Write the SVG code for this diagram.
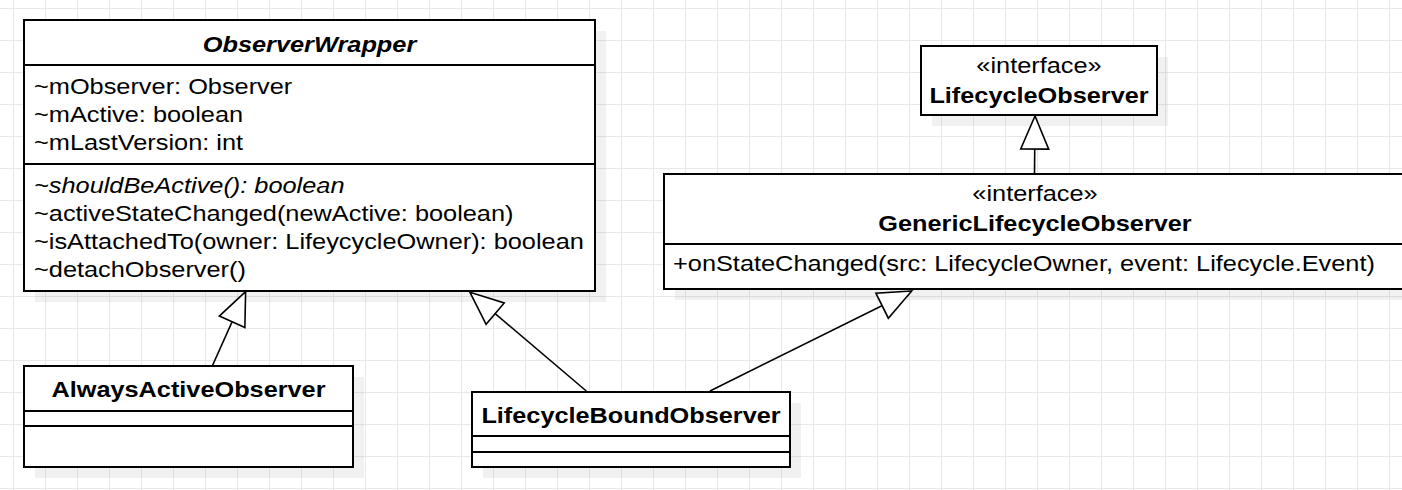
<svg xmlns="http://www.w3.org/2000/svg" width="1402" height="490" viewBox="0 0 1402 490">
<style>
.bx{fill:#fff;stroke:#000;stroke-width:2}
.sh{fill:#000;fill-opacity:0.055}
.sep{stroke:#000;stroke-width:2}
.t{font-family:"Liberation Sans",Arial,sans-serif;font-size:22px;fill:#000}
.b{font-weight:bold}
.i{font-style:italic}
.c{text-anchor:middle}
.cn{fill:none;stroke:#000;stroke-width:1.6;marker-end:url(#tri)}
</style>
<defs>
<pattern id="grid" x="13" y="8" width="32" height="32" patternUnits="userSpaceOnUse">
<rect x="0" y="0" width="1" height="32" fill="#e8e8e8"/>
<rect x="0" y="0" width="32" height="1" fill="#e8e8e8"/>
</pattern>
<marker id="tri" markerUnits="userSpaceOnUse" viewBox="-36 -16 38 32" refX="0" refY="0" markerWidth="38" markerHeight="32" orient="auto" overflow="visible">
<path d="M0,0 L-33,-14 L-33,14 Z" fill="#fff" stroke="#000" stroke-width="1.6"/>
</marker>
</defs>
<rect width="1402" height="490" fill="#fff"/>
<rect width="1402" height="490" fill="url(#grid)"/>
<g id="shadows">
<rect class="sh" x="35" y="31" width="571" height="271"/>
<rect class="sh" x="35" y="377" width="329" height="101"/>
<rect class="sh" x="483" y="403" width="318" height="75"/>
<rect class="sh" x="932" y="57" width="236" height="69"/>
<rect class="sh" x="675" y="185" width="760" height="115"/>
</g>
<g id="ObserverWrapper">
<rect class="bx" x="24" y="20" width="571" height="271"/>
<line class="sep" x1="24" y1="65" x2="595" y2="65"/>
<line class="sep" x1="24" y1="164" x2="595" y2="164"/>
<text class="t b i c" transform="translate(309.5,52) scale(1.152,1)">ObserverWrapper</text>
<text class="t" transform="translate(34,94) scale(1.152,1)">~mObserver: Observer</text>
<text class="t" transform="translate(34,122) scale(1.152,1)">~mActive: boolean</text>
<text class="t" transform="translate(34,150) scale(1.152,1)">~mLastVersion: int</text>
<text class="t i" transform="translate(34,193) scale(1.152,1)">~shouldBeActive(): boolean</text>
<text class="t" transform="translate(34,221) scale(1.152,1)">~activeStateChanged(newActive: boolean)</text>
<text class="t" transform="translate(34,249) scale(1.152,1)">~isAttachedTo(owner: LifeycycleOwner): boolean</text>
<text class="t" transform="translate(34,277) scale(1.152,1)">~detachObserver()</text>
</g>
<g id="AlwaysActiveObserver">
<rect class="bx" x="24" y="366" width="329" height="101"/>
<line class="sep" x1="24" y1="411" x2="353" y2="411"/>
<line class="sep" x1="24" y1="426" x2="353" y2="426"/>
<text class="t b c" transform="translate(188.5,397) scale(1.15,1)">AlwaysActiveObserver</text>
</g>
<g id="LifecycleBoundObserver">
<rect class="bx" x="472" y="392" width="318" height="75"/>
<line class="sep" x1="472" y1="436" x2="790" y2="436"/>
<line class="sep" x1="472" y1="452" x2="790" y2="452"/>
<text class="t b c" transform="translate(631,423) scale(1.15,1)">LifecycleBoundObserver</text>
</g>
<g id="LifecycleObserver">
<rect class="bx" x="921" y="46" width="236" height="69"/>
<text class="t c" transform="translate(1039,73) scale(1.152,1)">«interface»</text>
<text class="t b c" transform="translate(1039,103) scale(1.15,1)">LifecycleObserver</text>
</g>
<g id="GenericLifecycleObserver">
<rect class="bx" x="664" y="174" width="760" height="115"/>
<line class="sep" x1="664" y1="244" x2="1424" y2="244"/>
<text class="t c" transform="translate(1035,201) scale(1.152,1)">«interface»</text>
<text class="t b c" transform="translate(1035,231) scale(1.15,1)">GenericLifecycleObserver</text>
<text class="t" transform="translate(673,271) scale(1.152,1)">+onStateChanged(src: LifecycleOwner, event: Lifecycle.Event)</text>
</g>
<g id="connectors">
<path class="cn" d="M212.3,366 L245.6,291.7"/>
<path class="cn" d="M586.3,391 L470,292.3"/>
<path class="cn" d="M710,391 L911.7,291"/>
<path class="cn" d="M1034.5,174 L1035,116"/>
</g>
</svg>
